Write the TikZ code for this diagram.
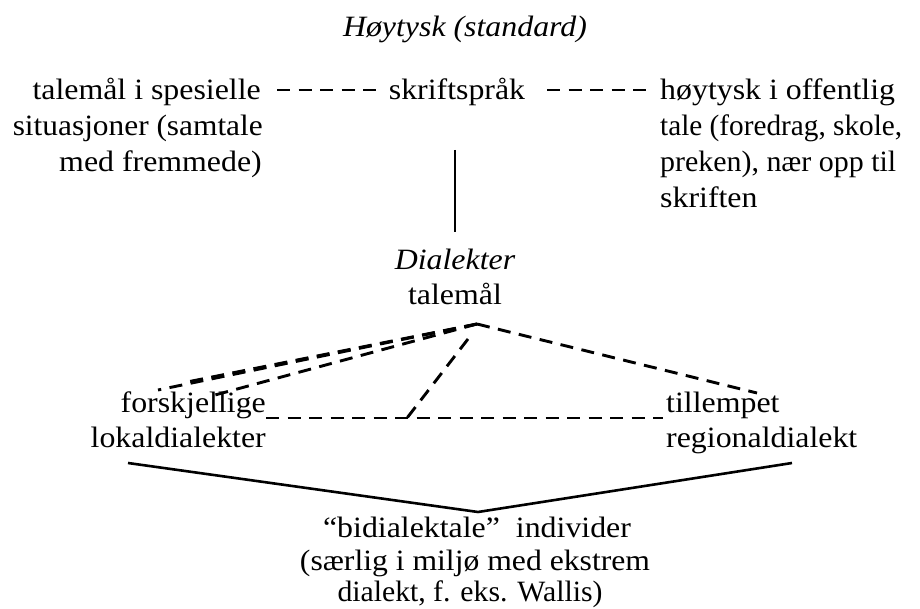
\documentclass[tikz,border=0pt]{standalone}
\usepackage{graphicx}
\usepackage{fontspec}
\setmainfont{Liberation Serif}[FakeStretch=1.08]
\newcommand\fitw[2]{\resizebox{#1}{\height}{#2}}
\begin{document}
\begin{tikzpicture}[x=1pt,y=-1pt,
  txt/.style={inner sep=0pt,font=\fontsize{29.5}{35}\selectfont},
  dsh/.style={line width=2.9pt,dash pattern=on 13pt off 8.5pt},
  sld/.style={line width=2.6pt}]
\useasboundingbox (0,0) rectangle (920,609);
% title
\node[txt,anchor=base] (hoy) at (465,37) {\itshape Høytysk (standard)};
% left block
\node[txt,anchor=base east] (l1) at (261,100) {talemål i spesielle};
\node[txt,anchor=base east] (l2) at (263,136) {\fitw{250pt}{situasjoner (samtale}};
\node[txt,anchor=base east] (l3) at (262,172) {med fremmede)};
% centre
\node[txt,anchor=base] (skr) at (457,100) {skriftspråk};
% right block
\node[txt,anchor=base west] (r1) at (660,100) {høytysk i offentlig};
\node[txt,anchor=base west] (r2) at (660,136) {\fitw{242pt}{tale (foredrag, skole,}};
\node[txt,anchor=base west] (r3) at (660,172) {\fitw{236pt}{preken), nær opp til}};
\node[txt,anchor=base west] (r4) at (660,208) {skriften};
% dialekter
\node[txt,anchor=base] (dia) at (455,270) {\itshape Dialekter};
\node[txt,anchor=base] (tal) at (455,305) {talemål};
% lower
\node[txt,anchor=base east] (f1) at (266,412) {forskjellige};
\node[txt,anchor=base east] (f2) at (266,447) {lokaldialekter};
\node[txt,anchor=base west] (t1) at (666,412) {tillempet};
\node[txt,anchor=base west] (t2) at (666,447) {regionaldialekt};
% bottom
\node[txt,anchor=base] (b1) at (477,537) {“bidialektale”\ \ individer};
\node[txt,anchor=base] (b2) at (475,570) {\fitw{350pt}{(særlig i miljø med ekstrem}};
\node[txt,anchor=base] (b3) at (470,601) {\fitw{265pt}{dialekt, f. eks. Wallis)}};
% coordinates
\coordinate (apex) at (477,324);
\coordinate (tl1) at (277,90);
\coordinate (tl2) at (380,90);
\coordinate (tr1) at (547,90);
\coordinate (tr2) at (648,90);
\coordinate (v1) at (455,150);
\coordinate (v2) at (455,232);
\coordinate (fa) at (158,390);
\coordinate (fb) at (182,383);
\coordinate (fc) at (215,395);
\coordinate (re) at (757,393);
\coordinate (m1) at (468,339);
\coordinate (m2) at (407,418);
\coordinate (h1) at (266,418);
\coordinate (h2) at (663,418);
\coordinate (vl) at (128,463);
\coordinate (vb) at (478,512);
\coordinate (vr) at (792,463);
% connectors
\draw[dsh] (tl1) -- (tl2);
\draw[dsh] (tr1) -- (tr2);
\draw[sld] (v1) -- (v2);
\draw[dsh] (apex) -- (fa);
\draw[dsh] (apex) -- (fb);
\draw[dsh] (apex) -- (fc);
\draw[dsh] (apex) -- (re);
\draw[dsh] (m1) -- (m2);
\draw[dsh] (h1) -- (h2);
\draw[sld] (vl) -- (vb) -- (vr);
\end{tikzpicture}
\end{document}
